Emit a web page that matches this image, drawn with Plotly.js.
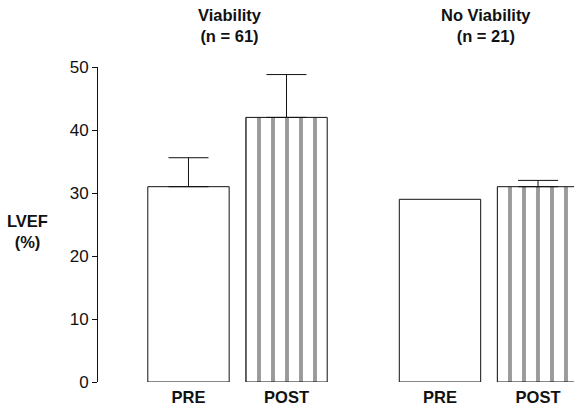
<!DOCTYPE html>
<html>
<head>
<meta charset="utf-8">
<script src="https://cdn.plot.ly/plotly-3.0.1.min.js"></script>
<style>html,body{margin:0;padding:0;background:#fff;}#chart{width:574px;height:413px;}</style>
</head>
<body>
<div id="chart"></div>
<script>
// Data
var phases = ["PRE", "POST"];
var groupTitles = ["Viability<br>(n = 61)", "No Viability<br>(n = 21)"];
var viabilityLVEF = [31, 42];
var viabilitySD = [4.6, 6.8];
var noViabilityLVEF = [29, 31];
var noViabilitySD = [0, 1];
var yTicks = [0, 10, 20, 30, 40, 50];
var yLabel = "LVEF<br>(%)";

var FONT = "Liberation Sans, Arial, Helvetica, sans-serif";
var patterns = ["", "|"];

function barTraces(ys, sd, xa) {
  return phases.map(function (ph, i) {
    return {
      type: "bar",
      x: [ph], y: [ys[i]],
      xaxis: xa, yaxis: "y",
      width: 0.83,
      opacity: 1,
      marker: {
        color: "#ffffff",
        opacity: 1,
        line: {color: "#111", width: 1},
        pattern: {shape: patterns[i], fgcolor: "#9a9a9a", fgopacity: 1, bgcolor: "#ffffff", size: 14, solidity: 0.28, fillmode: "overlay"}
      },
      error_y: {type: "data", array: [sd[i]], arrayminus: [0], symmetric: false,
                visible: sd[i] > 0, color: "#111", thickness: 1, width: 20},
      hoverinfo: "skip",
      showlegend: false
    };
  });
}

var data = barTraces(viabilityLVEF, viabilitySD, "x").concat(barTraces(noViabilityLVEF, noViabilitySD, "x2"));

var xCommon = {
  type: "category", categoryarray: phases, categoryorder: "array",
  showline: false, zeroline: false, showgrid: false, ticks: "",
  ticklabelstandoff: 3,
  tickfont: {family: FONT, size: 16.5, color: "#111", weight: "bold"}, fixedrange: true
};

var layout = {
  width: 574, height: 413,
  margin: {l: 98, r: 0, t: 67, b: 31},
  paper_bgcolor: "#fff", plot_bgcolor: "#fff",
  font: {family: FONT, color: "#111"},
  barmode: "overlay",
  xaxis: Object.assign({}, xCommon, {domain: [0, 0.499], range: [-0.923, 1.5], anchor: "y"}),
  xaxis2: Object.assign({}, xCommon, {domain: [0.6155, 1], range: [-0.5, 1.367], anchor: "y"}),
  yaxis: {
    range: [0, 50], tickvals: yTicks, ticktext: yTicks.map(String),
    showline: true, linecolor: "#111", linewidth: 1, ticks: "outside", ticklen: 5, tickcolor: "#111",
    showgrid: false, zeroline: false, tickfont: {family: FONT, size: 17, color: "#111"}, fixedrange: true
  },
  annotations: [
    {text: groupTitles[0], xref: "x", yref: "paper", x: 0.42, y: 1.132, showarrow: false,
     xanchor: "center", yanchor: "middle", font: {family: FONT, size: 16.5, color: "#111", weight: "bold"}},
    {text: groupTitles[1], xref: "x2", yref: "paper", x: 0.47, y: 1.132, showarrow: false,
     xanchor: "center", yanchor: "middle", font: {family: FONT, size: 16.5, color: "#111", weight: "bold"}},
    {text: yLabel, xref: "paper", yref: "paper", x: -0.149, y: 0.479, showarrow: false,
     xanchor: "center", yanchor: "middle", font: {family: FONT, size: 16.5, color: "#111", weight: "bold"}}
  ]
};

Plotly.newPlot("chart", data, layout, {displayModeBar: false, staticPlot: true});
</script>
</body>
</html>
